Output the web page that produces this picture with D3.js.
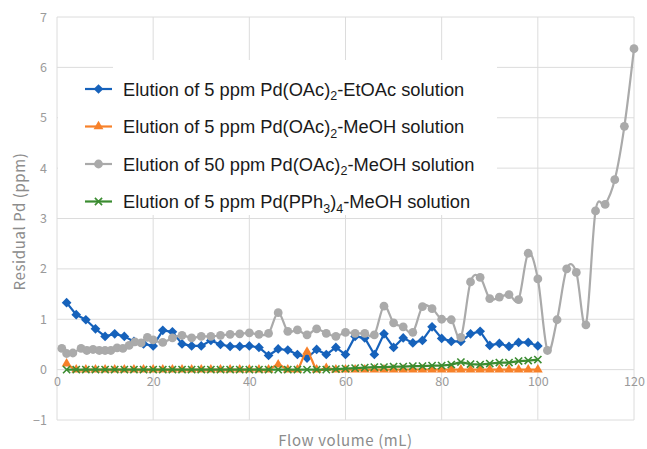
<!DOCTYPE html>
<html>
<head>
<meta charset="utf-8">
<script src="https://cdn.jsdelivr.net/npm/d3@7"></script>
<style>
  body { margin: 0; background: #fff; }
  svg { display: block; }
</style>
</head>
<body>
<svg id="chart" width="647" height="449"></svg>
<script>
// flow volume (mL) for the 2 mL fractions
const volumes = [2, 4, 6, 8, 10, 12, 14, 16, 18, 20, 22, 24, 26, 28, 30, 32, 34, 36, 38, 40,
  42, 44, 46, 48, 50, 52, 54, 56, 58, 60, 62, 64, 66, 68, 70, 72, 74, 76, 78, 80,
  82, 84, 86, 88, 90, 92, 94, 96, 98, 100];
const etoacPd = [1.33, 1.09, 0.99, 0.81, 0.66, 0.71, 0.66, 0.56, 0.51, 0.47, 0.78, 0.75, 0.51, 0.47, 0.47, 0.58, 0.50, 0.46, 0.46, 0.47,
  0.44, 0.28, 0.41, 0.39, 0.30, 0.23, 0.40, 0.30, 0.44, 0.30, 0.66, 0.63, 0.30, 0.71, 0.44, 0.63, 0.53, 0.58, 0.85, 0.62,
  0.56, 0.56, 0.71, 0.76, 0.48, 0.52, 0.46, 0.54, 0.54, 0.47];
const meohPd = [0.12, 0, 0, 0, 0, 0, 0, 0, 0, 0, 0, 0, 0, 0, 0, 0, 0, 0, 0, 0,
  0, 0, 0.10, 0, 0, 0.35, 0, 0.03, 0, 0, 0, 0, 0, 0, 0, 0, 0, 0, 0, 0,
  0, 0, 0, 0, 0, 0, 0, 0, 0, 0];
const pph3Pd = [0, 0, 0, 0, 0, 0, 0, 0, 0, 0, 0, 0, 0, 0, 0, 0, 0, 0, 0, 0,
  0, 0, 0, 0, 0, 0, 0, 0, 0.01, 0.02, 0.03, 0.04, 0.05, 0.05, 0.06, 0.06, 0.07, 0.07, 0.08, 0.08,
  0.10, 0.15, 0.11, 0.10, 0.12, 0.14, 0.14, 0.17, 0.18, 0.20];
// 50 ppm run was sampled on its own volumes
const volumes50 = [1, 2, 3.3, 5, 6.2, 7.5, 8.8, 10, 11.2, 12.5, 13.7, 15, 16.2, 17.5, 18.8, 20,
  22, 24, 26, 28, 30, 32, 34, 36, 38, 40, 42, 44, 46, 48, 50, 52, 54, 56, 58, 60,
  62, 64, 66, 68, 70, 72, 74, 76, 78, 80, 82, 84, 86, 88, 90, 92, 94, 96, 98, 100,
  102, 104, 106, 108, 110, 112, 114, 116, 118, 120];
const meoh50Pd = [0.42, 0.32, 0.33, 0.42, 0.38, 0.40, 0.38, 0.38, 0.38, 0.43, 0.42, 0.48, 0.55, 0.53, 0.64, 0.59,
  0.54, 0.63, 0.68, 0.63, 0.66, 0.66, 0.68, 0.70, 0.71, 0.73, 0.70, 0.72, 1.13, 0.76, 0.79, 0.69, 0.81, 0.72, 0.66, 0.74,
  0.72, 0.72, 0.69, 1.26, 0.93, 0.85, 0.74, 1.25, 1.21, 1.00, 0.99, 0.64, 1.74, 1.83, 1.41, 1.44, 1.49, 1.39, 2.31, 1.80,
  0.38, 0.99, 2.00, 1.93, 0.89, 3.15, 3.28, 3.77, 4.83, 6.37];

const xTicks = [0, 20, 40, 60, 80, 100, 120];
const yTicks = [-1, 0, 1, 2, 3, 4, 5, 6, 7];

const series = [
  { name: ['Elution of 5 ppm Pd(OAc)', '2', '-EtOAc solution'], xs: volumes, ys: etoacPd, color: '#1662bb', marker: 'diamond', smooth: false },
  { name: ['Elution of 5 ppm Pd(OAc)', '2', '-MeOH solution'], xs: volumes, ys: meohPd, color: '#f7812a', marker: 'triangle', smooth: true },
  { name: ['Elution of 50 ppm Pd(OAc)', '2', '-MeOH solution'], xs: volumes50, ys: meoh50Pd, color: '#aaaaaa', marker: 'circle', smooth: true },
  { name: ['Elution of 5 ppm Pd(PPh', '3', ')', '4', '-MeOH solution'], xs: volumes, ys: pph3Pd, color: '#3b8c31', marker: 'cross', smooth: false }
];

const svg = d3.select('#chart');
const margin = { left: 57, right: 13, top: 17, bottom: 29 };
const width = 647 - margin.left - margin.right;
const height = 449 - margin.top - margin.bottom;
const axisFont = '"Noto Sans CJK JP", "Noto Sans", sans-serif';

const x = d3.scaleLinear().domain([0, 120]).range([margin.left, margin.left + width]);
const y = d3.scaleLinear().domain([-1, 7]).range([margin.top + height, margin.top]);

// grid
const grid = svg.append('g').attr('class', 'grid');
grid.selectAll('line.h')
  .data(yTicks)
  .enter()
  .append('line')
  .attr('class', 'h')
  .attr('x1', x(0))
  .attr('x2', x(120))
  .attr('y1', d => y(d))
  .attr('y2', d => y(d))
  .attr('stroke', '#dcdcdc')
  .attr('stroke-width', 1);
grid.selectAll('line.v')
  .data(xTicks)
  .enter()
  .append('line')
  .attr('class', 'v')
  .attr('x1', d => x(d))
  .attr('x2', d => x(d))
  .attr('y1', y(7))
  .attr('y2', y(-1))
  .attr('stroke', '#dcdcdc')
  .attr('stroke-width', 1);

// axes, tick lines removed; x labels sit just under the zero line
const yAxis = svg.append('g')
  .attr('transform', `translate(${margin.left},0)`)
  .call(d3.axisLeft(y).tickValues(yTicks).tickSize(0).tickPadding(10).tickFormat(d3.format('d')));
const xAxis = svg.append('g')
  .attr('transform', `translate(0,${y(0)})`)
  .call(d3.axisBottom(x).tickValues(xTicks).tickSize(0).tickPadding(7));
[yAxis, xAxis].forEach(ax => {
  ax.select('.domain').remove();
  ax.selectAll('text')
    .attr('fill', '#9a9a9a')
    .style('font-family', axisFont)
    .style('font-size', '12.5px');
});

// axis titles
svg.append('text')
  .attr('x', x(60))
  .attr('y', 439)
  .attr('text-anchor', 'middle')
  .attr('dominant-baseline', 'central')
  .attr('fill', '#8c8c8c')
  .style('font-family', axisFont)
  .style('font-size', '15px')
  .style('letter-spacing', '0.6px')
  .text('Flow volume (mL)');
svg.append('text')
  .attr('transform', `translate(18,${(y(7) + y(-1)) / 2 + 3}) rotate(-90)`)
  .attr('text-anchor', 'middle')
  .attr('dominant-baseline', 'central')
  .attr('fill', '#8c8c8c')
  .style('font-family', axisFont)
  .style('font-size', '15px')
  .style('letter-spacing', '0.6px')
  .text('Residual Pd (ppm)');

function drawMarker(sel, type, color) {
  if (type === 'diamond') {
    sel.append('path').attr('d', d3.symbol(d3.symbolDiamond2, 60)()).attr('fill', color);
  } else if (type === 'triangle') {
    sel.append('path').attr('d', d3.symbol(d3.symbolTriangle, 42)()).attr('fill', color);
  } else if (type === 'circle') {
    sel.append('circle').attr('r', 4.4).attr('fill', color);
  } else {
    sel.append('path')
      .attr('d', 'M-3.6,-3.6L3.6,3.6M-3.6,3.6L3.6,-3.6')
      .attr('stroke', color)
      .attr('stroke-width', 1.6)
      .attr('fill', 'none');
  }
}

// series
const plot = svg.append('g').attr('class', 'series');
series.forEach(s => {
  const pts = s.xs.map((v, i) => [v, s.ys[i]]);
  const line = d3.line()
    .x(d => x(d[0]))
    .y(d => y(d[1]))
    .curve(s.smooth ? d3.curveCardinal.tension(0) : d3.curveLinear);
  const g = plot.append('g');
  g.append('path')
    .datum(pts)
    .attr('d', line)
    .attr('fill', 'none')
    .attr('stroke', s.color)
    .attr('stroke-width', 2.2)
    .attr('stroke-linejoin', 'round');
  g.selectAll('g.pt')
    .data(pts)
    .enter()
    .append('g')
    .attr('class', 'pt')
    .attr('transform', d => `translate(${x(d[0])},${y(d[1])})`)
    .each(function() {
      // eslint-disable-next-line no-invalid-this
      drawMarker(d3.select(this), s.marker, s.color);
    });
});

// legend
const legend = svg.append('g').attr('class', 'legend');
legend.append('rect').attr('x', 113).attr('y', 60).attr('width', 384).attr('height', 155).attr('fill', '#fff');
legend.append('rect').attr('x', 58).attr('y', 70).attr('width', 439).attr('height', 145).attr('fill', '#fff');
const rowY = [89, 126.5, 164, 201.5];
series.forEach((s, i) => {
  const row = legend.append('g').attr('transform', `translate(0,${rowY[i]})`);
  row.append('line')
    .attr('x1', 85)
    .attr('x2', 112)
    .attr('stroke', s.color)
    .attr('stroke-width', 2.2);
  drawMarker(row.append('g').attr('transform', 'translate(98.5,0)'), s.marker, s.color);
  const txt = row.append('text')
    .attr('x', 123)
    .attr('y', 6.5)
    .attr('fill', '#1a1a1a')
    .style('font-family', '"Liberation Sans", Arial, sans-serif')
    .style('font-size', '18.3px');
  s.name.forEach((part, j) => {
    const sub = j % 2 === 1;
    txt.append('tspan')
      .attr('dy', sub ? 4.5 : (j > 0 ? -4.5 : 0))
      .style('font-size', sub ? '12.5px' : null)
      .text(part);
  });
});
</script>
</body>
</html>
